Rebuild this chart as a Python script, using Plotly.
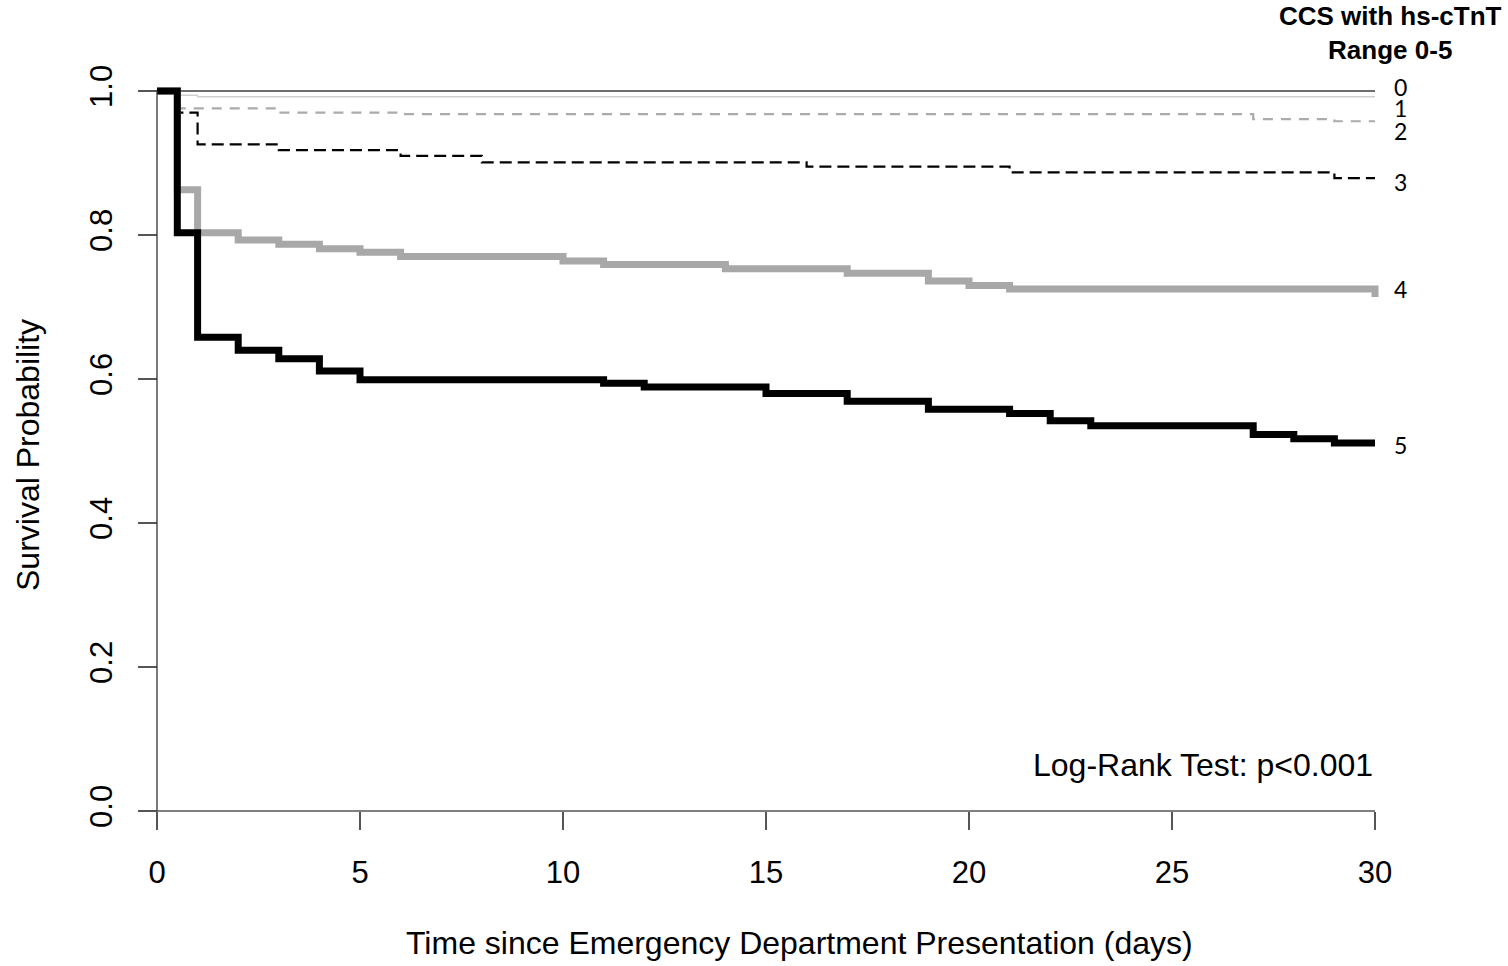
import plotly.graph_objects as go

# ---------------- data ----------------
groups = ["0", "1", "2", "3", "4", "5"]

times_0 = [0, 30]
surv_0 = [1.000, 1.000]

times_1 = [0, 0.5, 1, 30]
surv_1 = [1.000, 0.994, 0.992, 0.992]

times_2 = [0, 0.5, 3, 6, 27, 29, 30]
surv_2 = [1.000, 0.976, 0.970, 0.968, 0.961, 0.958, 0.958]

times_3 = [0, 0.5, 1, 3, 6, 8, 16, 21, 29, 30]
surv_3 = [1.000, 0.970, 0.926, 0.918, 0.910, 0.901, 0.895, 0.887, 0.879, 0.879]

times_4 = [0, 0.5, 1, 2, 3, 4, 5, 6, 10, 11, 14, 17, 19, 20, 21, 30]
surv_4 = [1.000, 0.863, 0.803, 0.793, 0.787, 0.781, 0.776, 0.770, 0.764,
          0.759, 0.753, 0.747, 0.736, 0.730, 0.725, 0.714]

times_5 = [0, 0.5, 1, 2, 3, 4, 5, 11, 12, 15, 17, 19, 21, 22, 23, 27, 28, 29, 30]
surv_5 = [1.000, 0.803, 0.658, 0.640, 0.628, 0.611, 0.599, 0.594, 0.589,
          0.580, 0.569, 0.558, 0.552, 0.542, 0.535, 0.523, 0.517, 0.511, 0.511]

x_ticks = [0, 5, 10, 15, 20, 25, 30]
y_ticks = [0.0, 0.2, 0.4, 0.6, 0.8, 1.0]
y_tick_labels = ["0.0", "0.2", "0.4", "0.6", "0.8", "1.0"]

legend_title = "<b>CCS with hs-cTnT<br>Range 0-5</b>"
test_text = "Log-Rank Test: p<0.001"
x_title = "Time since Emergency Department Presentation (days)"
y_title = "Survival Probability"

all_times = [times_0, times_1, times_2, times_3, times_4, times_5]
all_surv = [surv_0, surv_1, surv_2, surv_3, surv_4, surv_5]

# ---------------- styles ----------------
colors = ["#6e6e6e", "#cfcfcf", "#ababab", "#000000", "#a8a8a8", "#000000"]
widths = [2, 1.5, 2.2, 2.2, 7, 7]
dashes = ["solid", "solid", "10px,8px", "12px,6px", "solid", "solid"]
label_shift = [4, -11, -10, -4, 8, -2]   # px nudges of end labels

W, H = 1508, 966
# pixel geometry of the reference
X0_PX, X30_PX = 157, 1375
Y1_PX, Y0_PX = 91, 811
L, R_EDGE = 137, 1395
T, B_EDGE = 69, 833
ppx = (X30_PX - X0_PX) / 30.0
ppy = (Y0_PX - Y1_PX) / 1.0

x_rng = [-(X0_PX - L) / ppx, 30 + (R_EDGE - X30_PX) / ppx]
y_rng = [-(B_EDGE - Y0_PX) / ppy, 1 + (Y1_PX - T) / ppy]


def px_paper(px):
    return (px - L) / (R_EDGE - L)


def py_paper(py):
    return (B_EDGE - py) / (B_EDGE - T)


def dx(px):
    return (px - X0_PX) / ppx


FONT = "Liberation Sans, Arial"

fig = go.Figure()
for i, g in enumerate(groups):
    fig.add_trace(go.Scatter(
        x=all_times[i], y=all_surv[i], mode="lines", name=g,
        line=dict(shape="hv", color=colors[i], width=widths[i], dash=dashes[i]),
        showlegend=False, hoverinfo="x+y+name"))

AX = "#555555"
# axis lines spanning the tick range (R style)
fig.add_shape(type="line", xref="x", yref="y", x0=min(x_ticks), x1=max(x_ticks),
              y0=min(y_ticks), y1=min(y_ticks), line=dict(color=AX, width=1.5))
fig.add_shape(type="line", xref="x", yref="y", x0=min(x_ticks), x1=min(x_ticks),
              y0=min(y_ticks), y1=max(y_ticks), line=dict(color="#333333", width=1.3))

annotations = []
for i, g in enumerate(groups):
    annotations.append(dict(
        x=dx(1392), y=all_surv[i][-1], xref="x", yref="y", text=g,
        showarrow=False, xanchor="left", yanchor="middle", yshift=label_shift[i],
        font=dict(family="Lato, Noto Sans, sans-serif", size=23, color="#000000")))

annotations.append(dict(x=px_paper(1390), y=py_paper(33), xref="paper", yref="paper",
                        text=legend_title, showarrow=False, xanchor="center", yanchor="middle",
                        font=dict(family=FONT, size=26, color="#000000")))
annotations.append(dict(x=px_paper(X30_PX), y=py_paper(765), xref="paper", yref="paper",
                        text=test_text, showarrow=False, xanchor="right", yanchor="middle",
                        font=dict(family=FONT, size=32, color="#000000")))
annotations.append(dict(x=px_paper(799), y=py_paper(943), xref="paper", yref="paper",
                        text=x_title, showarrow=False, xanchor="center", yanchor="middle",
                        font=dict(family=FONT, size=32, color="#000000")))
annotations.append(dict(x=px_paper(28), y=py_paper(455), xref="paper", yref="paper",
                        text=y_title, showarrow=False, xanchor="center", yanchor="middle",
                        textangle=-90,
                        font=dict(family=FONT, size=32, color="#000000")))

fig.update_layout(
    width=W, height=H,
    margin=dict(l=L, r=W - R_EDGE, t=T, b=H - B_EDGE, pad=0),
    paper_bgcolor="white", plot_bgcolor="white",
    annotations=annotations,
    font=dict(family=FONT, size=31, color="#000000"),
    xaxis=dict(range=x_rng, tickvals=x_ticks, ticktext=[str(v) for v in x_ticks],
               showgrid=False, zeroline=False, showline=False,
               ticks="outside", ticklen=18, tickwidth=1.5, tickcolor=AX,
               anchor="free", position=(B_EDGE - Y0_PX) / (B_EDGE - T),
               ticklabelstandoff=16,
               tickfont=dict(size=31, family=FONT)),
    yaxis=dict(range=y_rng, tickvals=y_ticks, ticktext=y_tick_labels,
               showgrid=False, zeroline=False, showline=False,
               ticks="outside", ticklen=19, tickwidth=1.5, tickcolor=AX,
               anchor="free", position=(X0_PX - L) / (R_EDGE - L),
               tickangle=-90, ticklabelstandoff=14,
               tickfont=dict(size=31, family=FONT)),
)

fig.write_html(
    "out.html",
    config={"displayModeBar": False},
    post_script="document.body.style.margin='0';document.body.style.overflow='hidden';",
)
